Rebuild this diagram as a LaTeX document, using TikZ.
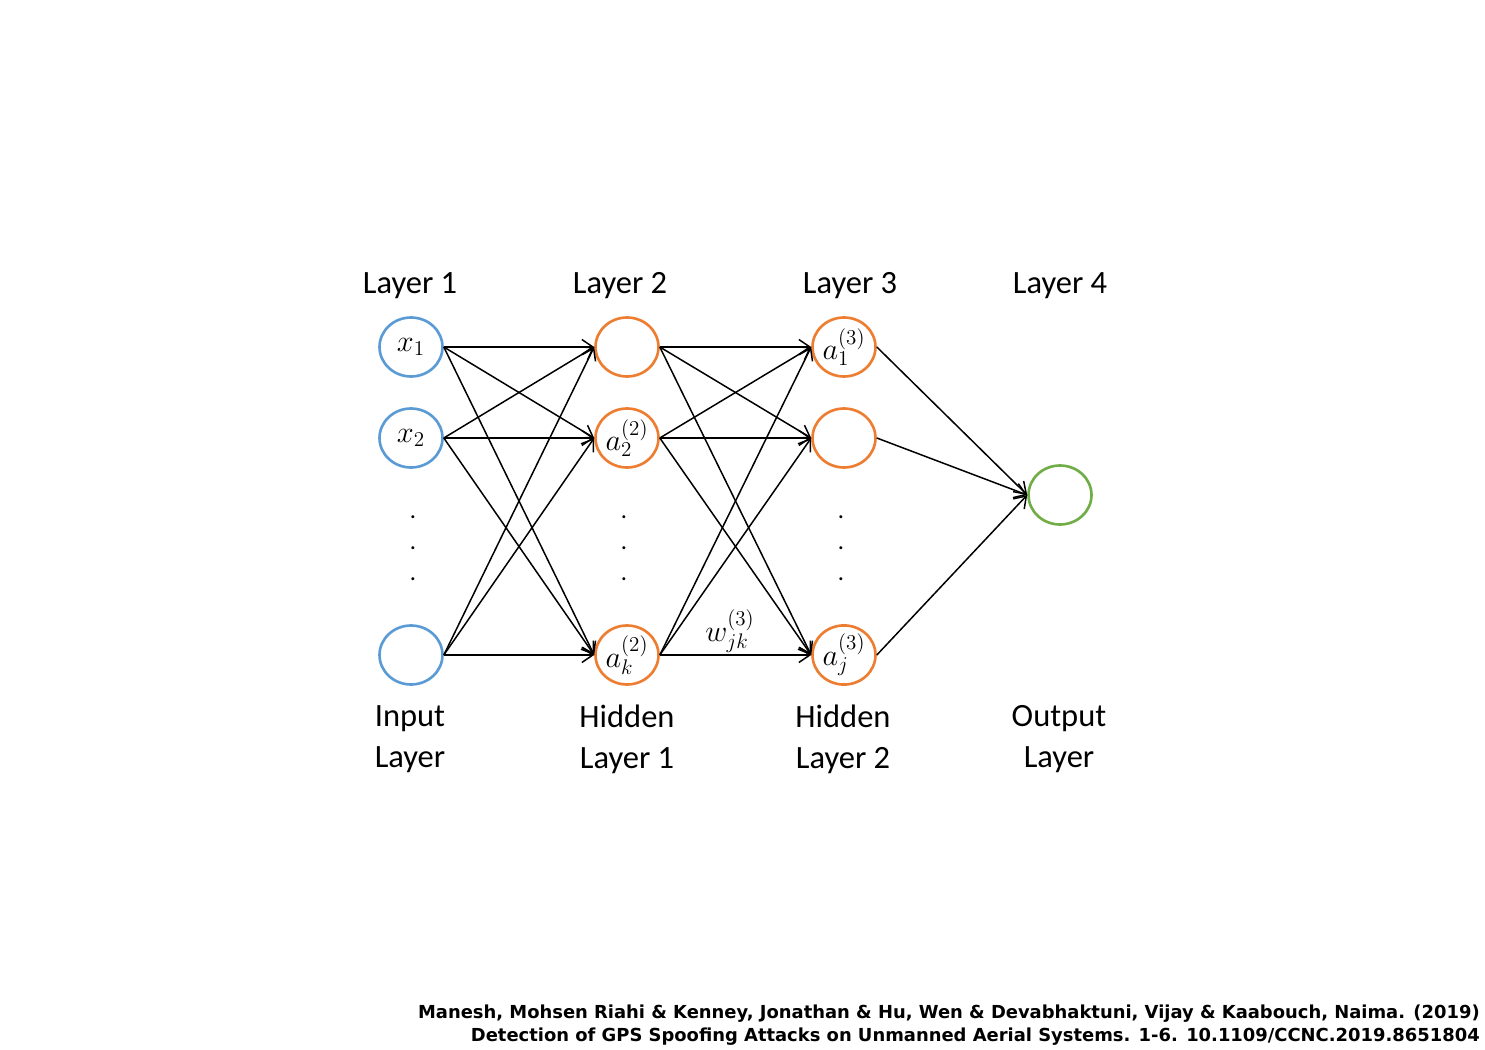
\documentclass[tikz,border=0pt]{standalone}
\usepackage{fontspec}
\setmainfont{Carlito}
\newfontfamily\footfont{DejaVu Sans}
\usetikzlibrary{shapes.geometric,arrows.meta}
\definecolor{nblue}{HTML}{5B9BD5}
\definecolor{norange}{HTML}{ED7D31}
\definecolor{ngreen}{HTML}{70AD47}
\begin{document}
\begin{tikzpicture}[x=0.02cm,y=-0.02cm,
  neuron/.style={ellipse,draw,line width=1.5pt,minimum width=1.26cm,minimum height=1.18cm,inner sep=0pt,fill=white,font=\fontsize{18}{21}\selectfont},
  inn/.style={neuron,draw=nblue},
  hid/.style={neuron,draw=norange},
  outn/.style={neuron,draw=ngreen},
  conn/.style={line width=0.85pt,-{Straight Barb[length=0.22cm,width=0.3cm,line width=0.85pt]}},
  title/.style={font=\fontsize{18.5}{22}\selectfont},
  sub/.style={font=\fontsize{18.5}{23.5}\selectfont,align=center},
  dotlbl/.style={font=\fontsize{14}{16}\selectfont}
]
\useasboundingbox (0,0) rectangle (1485,1050);
% nodes
\node[inn] (i1) at (411,347) {$x_1$};
\node[inn] (i2) at (411,438) {$x_2$};
\node[inn] (i3) at (411,655) {};
\node[hid] (h1) at (627,347) {};
\node[hid] (h2) at (627,438) {$a_2^{(2)}$};
\node[hid] (h3) at (627,655) {$a_k^{(2)}$};
\node[hid] (g1) at (844,347) {$a_1^{(3)}$};
\node[hid] (g2) at (844,438) {};
\node[hid] (g3) at (844,655) {$a_j^{(3)}$};
\node[outn] (o) at (1060,495) {};
% dots
\foreach \xx/\nm in {413/a,624/b,841/c}{
  \foreach \yy/\k in {517/1,548/2,579/3}{
    \node[dotlbl,inner sep=0pt] (d\nm\k) at (\xx,\yy) {.};
  }
}
% edges
\foreach \s in {i1,i2,i3}{
  \foreach \t in {h1,h2,h3}{
    \draw[conn] (\s.east) -- (\t.west);
  }
}
\foreach \s in {h1,h2,h3}{
  \foreach \t in {g1,g2,g3}{
    \draw[conn] (\s.east) -- (\t.west);
  }
}
\foreach \s in {g1,g2,g3}{
  \draw[conn] (\s.east) -- (o.west);
}
\node[font=\fontsize{18}{21}\selectfont] (w) at (730,631) {$w_{jk}^{(3)}$};
% titles
\node[title] (t1) at (410,286) {Layer 1};
\node[title] (t2) at (620,286) {Layer 2};
\node[title] (t3) at (850,286) {Layer 3};
\node[title] (t4) at (1060,286) {Layer 4};
\node[sub] (b1) at (410,739) {Input\\Layer};
\node[sub] (b2) at (627,739) {Hidden\\Layer 1};
\node[sub] (b3) at (843,739) {Hidden\\Layer 2};
\node[sub] (b4) at (1059,739) {Output\\Layer};
% footer
\node[anchor=north east,align=right,inner sep=0pt,font=\footfont\bfseries\fontsize{10.2}{12.6}\selectfont] (ft) at (1480,1005)
 {Manesh, Mohsen Riahi \& Kenney, Jonathan \& Hu, Wen \& Devabhaktuni, Vijay \& Kaabouch, Naima. (2019)\\
  Detection of GPS Spoofing Attacks on Unmanned Aerial Systems. 1-6. 10.1109/CCNC.2019.8651804};
\end{tikzpicture}
\end{document}
